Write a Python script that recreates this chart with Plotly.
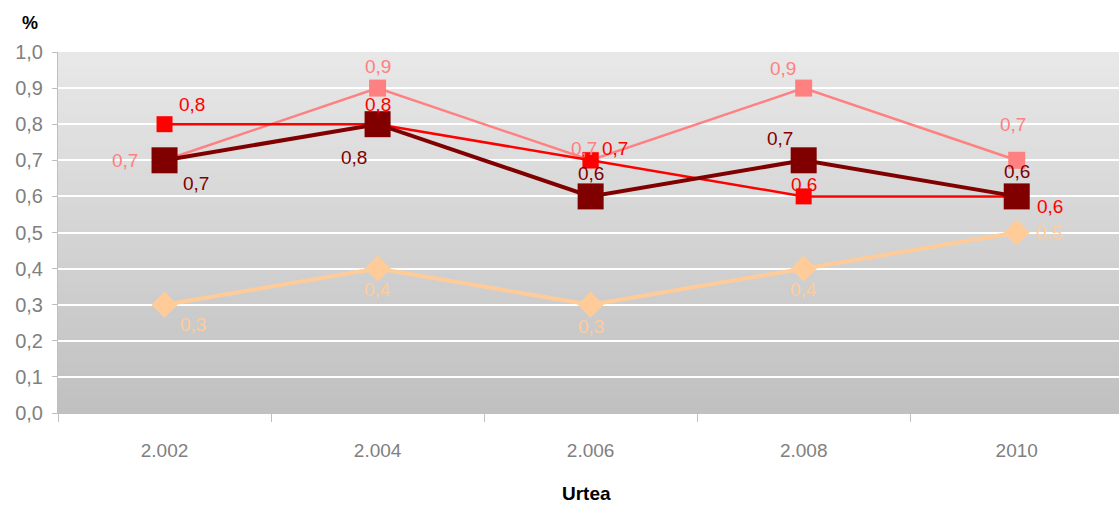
import plotly.graph_objects as go

years = ["2.002", "2.004", "2.006", "2.008", "2010"]
red_vals = [0.8, 0.8, 0.7, 0.6, 0.6]
pink_vals = [0.7, 0.9, 0.7, 0.9, 0.7]
dark_vals = [0.7, 0.8, 0.6, 0.7, 0.6]
peach_vals = [0.3, 0.4, 0.3, 0.4, 0.5]
y_ticks = [0.0, 0.1, 0.2, 0.3, 0.4, 0.5, 0.6, 0.7, 0.8, 0.9, 1.0]

FONT = "Liberation Sans, Arial, sans-serif"
fig = go.Figure()

# gradient background: stacked rects from bottom, each shorter one drawn on top
n = 72
def lerp(a, b, t):
    return int(round(a + (b - a) * t))
top = (232, 232, 232)
bot = (192, 192, 192)
for i in range(n):
    t = (i + 0.5) / n
    c = tuple(lerp(top[k], bot[k], t) for k in range(3))
    fig.add_shape(type="rect", xref="x domain", yref="y domain",
                  x0=0, x1=1, y0=0, y1=1 - i / n,
                  fillcolor="rgb(%d,%d,%d)" % c, line_width=0, layer="below")

series = [
    ("pink", pink_vals, "#FF8080", 2.5, "square", 17),
    ("red", red_vals, "#FF0000", 2.5, "square", 16),
    ("peach", peach_vals, "#FFCC99", 4, "diamond", 20),
    ("dark", dark_vals, "#800000", 4, "square", 26),
]
for name, vals, col, lw, sym, ms in series:
    fig.add_trace(go.Scatter(x=years, y=vals, mode="lines+markers", name=name,
                             line=dict(color=col, width=lw),
                             marker=dict(symbol=sym, size=ms, color=col),
                             showlegend=False, cliponaxis=False))

# label offsets (xshift, yshift) per point
offsets = {
    "red": [(27, 20), (0, 20), (24, 12), (0, 12), (33, -10)],
    "pink": [(-40, 0), (0, 22), (-7, 12), (-21, 20), (-4, 36)],
    "dark": [(31, -23), (-24, -33), (0, 23), (-24, 22), (0, 25)],
    "peach": [(28, -20), (0, -21), (0, -22), (0, -21), (32, 0)],
}
for name, vals, col, lw, sym, ms in series:
    for i, v in enumerate(vals):
        dx, dy = offsets[name][i]
        fig.add_annotation(x=i, y=v, text=("%.1f" % v).replace(".", ","),
                           showarrow=False, xshift=dx, yshift=dy,
                           font=dict(family=FONT, size=19, color=col))

fig.add_annotation(xref="paper", yref="paper", x=-0.0265, y=1.08, xanchor="center", yanchor="middle",
                   text="<b>%</b>", showarrow=False, font=dict(family=FONT, size=18, color="black"))
fig.add_annotation(xref="paper", yref="paper", x=0.498, y=-0.222, xanchor="center", yanchor="middle",
                   text="<b>Urtea</b>", showarrow=False, font=dict(family=FONT, size=19, color="black"))

fig.update_layout(
    width=1119, height=505,
    margin=dict(l=58, r=0, t=52, b=92, autoexpand=False),
    paper_bgcolor="white", plot_bgcolor="rgba(0,0,0,0)",
    separators=",.",
    xaxis=dict(type="category", range=[-0.5, 4.48], showgrid=False, zeroline=False,
               showline=True, linecolor="#BFBFBF", linewidth=1,
               ticks="outside", tickson="boundaries", ticklen=8, tickcolor="#BFBFBF",
               tickfont=dict(family=FONT, size=19, color="#808080"), ticklabelstandoff=20),
    yaxis=dict(range=[0, 1.0], tickvals=y_ticks, tickformat=".1f",
               showgrid=True, gridcolor="white", gridwidth=2, zeroline=False,
               showline=True, linecolor="#BFBFBF", linewidth=1,
               ticks="outside", ticklen=5, tickcolor="#BFBFBF", ticklabelstandoff=5,
               tickfont=dict(family=FONT, size=20, color="#808080")),
)
fig.write_html("out.html", config={"displayModeBar": False},
               post_script="document.body.style.margin='0px';")
